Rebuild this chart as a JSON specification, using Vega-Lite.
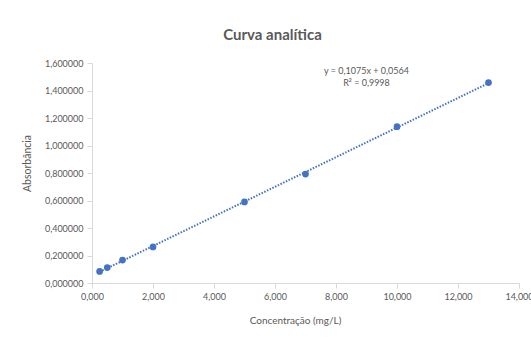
{
  "$schema": "https://vega.github.io/schema/vega-lite/v6.json",
  "width": 427,
  "height": 220,
  "autosize": {"type": "none"},
  "padding": {"left": 92, "top": 63, "right": 12, "bottom": 55},
  "background": "white",
  "config": {
    "font": "Lato",
    "view": {"stroke": null},
    "axis": {
      "grid": false,
      "domainColor": "#d9d9d9",
      "tickColor": "#d9d9d9",
      "tickSize": 5,
      "labelColor": "#595959",
      "titleColor": "#595959",
      "labelFont": "Lato",
      "titleFont": "Lato",
      "labelFontSize": 9,
      "titleFontSize": 10,
      "titleFontWeight": "normal",
      "labelOverlap": false,
      "labelFlush": false
    }
  },
  "title": {
    "text": "Curva analítica",
    "font": "Lato",
    "fontSize": 15,
    "fontWeight": "bold",
    "color": "#595959",
    "anchor": "middle",
    "frame": "group",
    "dx": -33,
    "offset": 16
  },
  "datasets": {
    "pts": [
      {"conc": 0.25, "abs": 0.084},
      {"conc": 0.5, "abs": 0.112},
      {"conc": 1, "abs": 0.167},
      {"conc": 2, "abs": 0.262},
      {"conc": 5, "abs": 0.59},
      {"conc": 7, "abs": 0.792},
      {"conc": 10, "abs": 1.137},
      {"conc": 13, "abs": 1.458}
    ],
    "notes": [
      {"conc": 9.0, "abs": 1.54, "label": "y = 0,1075x + 0,0564"},
      {"conc": 9.0, "abs": 1.455, "label": "R² = 0,9998"}
    ]
  },
  "encoding": {
    "x": {
      "field": "conc", "type": "quantitative",
      "scale": {"domain": [0, 14], "nice": false, "zero": true},
      "axis": {
        "title": "Concentração (mg/L)",
        "values": [0, 2, 4, 6, 8, 10, 12, 14],
        "labelExpr": "replace(format(datum.value, '.3f'), '.', ',')",
        "labelPadding": 4,
        "labelOverlap": false,
        "labelFlush": false,
        "titlePadding": 14,
        "titleX": 203
      }
    },
    "y": {
      "field": "abs", "type": "quantitative",
      "scale": {"domain": [0, 1.6], "nice": false},
      "axis": {
        "title": "Absorbância",
        "titleFontSize": 10.5,
        "values": [0, 0.2, 0.4, 0.6, 0.8, 1.0, 1.2, 1.4, 1.6],
        "labelExpr": "replace(format(datum.value, '.6f'), '.', ',')",
        "labelPadding": 4,
        "labelOverlap": false,
        "labelFlush": false,
        "titlePadding": 12,
        "titleY": 100
      }
    }
  },
  "layer": [
    {
      "data": {"name": "pts"},
      "transform": [{"regression": "abs", "on": "conc", "method": "linear"}],
      "mark": {"type": "line", "color": "#4472C4", "strokeDash": [1.5, 1.5], "strokeWidth": 2}
    },
    {
      "data": {"name": "pts"},
      "mark": {"type": "circle", "color": "#4472C4", "opacity": 1, "size": 45}
    },
    {
      "data": {"name": "notes"},
      "mark": {"type": "text", "color": "#595959", "fontSize": 9, "align": "center", "baseline": "middle", "font": "Lato"},
      "encoding": {
        "text": {"field": "label"}
      }
    }
  ]
}
